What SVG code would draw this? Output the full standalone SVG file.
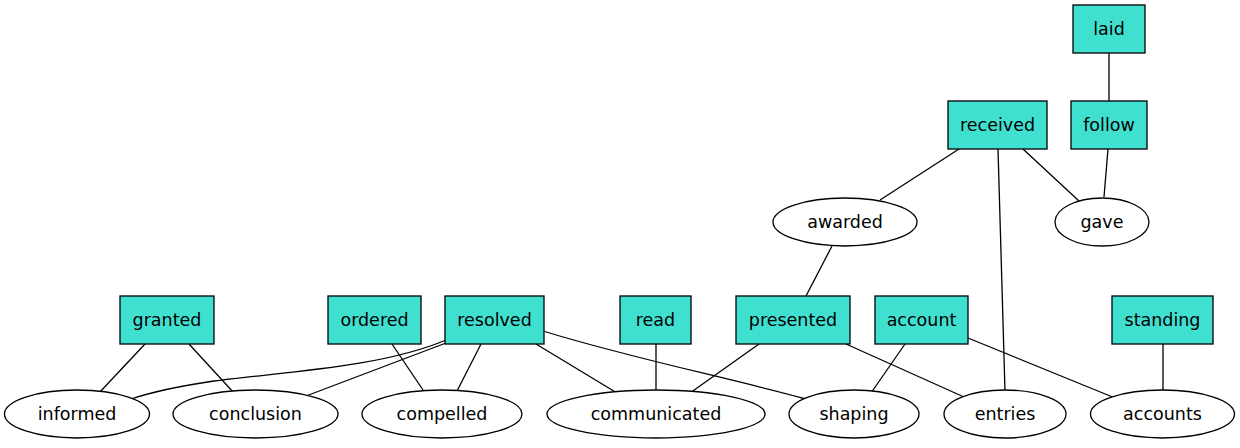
<svg xmlns="http://www.w3.org/2000/svg" width="1240" height="448" viewBox="0 0 1240 448">
<style>
.box{fill:#40E0D0;stroke:#000;stroke-width:1.3}
.ell{fill:#fff;stroke:#000;stroke-width:1.3}
.e{fill:none;stroke:#000;stroke-width:1.3}
text{font-family:"DejaVu Sans",sans-serif;font-size:17.5px;text-anchor:middle;fill:#000}
</style>
<rect width="1240" height="448" fill="#fff"/>
<g id="edges">
<line class="e" x1="1109" y1="53" x2="1109" y2="101"/>
<line class="e" x1="1108" y1="149" x2="1104" y2="197"/>
<line class="e" x1="959" y1="149" x2="880" y2="200"/>
<line class="e" x1="1023" y1="149" x2="1079" y2="201"/>
<line class="e" x1="998" y1="149" x2="1005" y2="391"/>
<line class="e" x1="832" y1="246" x2="806" y2="296"/>
<line class="e" x1="145" y1="344" x2="99" y2="393"/>
<line class="e" x1="189" y1="344" x2="234" y2="393"/>
<line class="e" x1="392" y1="344" x2="425" y2="393"/>
<line class="e" x1="481" y1="344" x2="456" y2="393"/>
<line class="e" x1="446" y1="343" x2="306" y2="396"/>
<path class="e" d="M446,340 C380,368 280,372 214,381 C180,386 152,392 131,399"/>
<line class="e" x1="536" y1="344" x2="617" y2="393"/>
<path class="e" d="M543,331 C630,358 730,378 806,399"/>
<line class="e" x1="656" y1="344" x2="656" y2="390"/>
<line class="e" x1="759" y1="344" x2="690" y2="393"/>
<line class="e" x1="846" y1="344" x2="964" y2="397"/>
<line class="e" x1="905" y1="344" x2="871" y2="393"/>
<line class="e" x1="968" y1="338" x2="1115" y2="398"/>
<line class="e" x1="1163" y1="344" x2="1163" y2="390"/>
</g>
<g id="laid"><rect class="box" x="1073" y="5" width="72" height="48"/><text x="1109" y="35">laid</text></g>
<g id="received"><rect class="box" x="948" y="101" width="99" height="48"/><text x="997.5" y="131">received</text></g>
<g id="follow"><rect class="box" x="1071" y="101" width="76" height="48"/><text x="1109" y="131">follow</text></g>
<g id="awarded"><ellipse class="ell" cx="845" cy="222" rx="72" ry="24"/><text x="845" y="228">awarded</text></g>
<g id="gave"><ellipse class="ell" cx="1102" cy="222" rx="47" ry="24"/><text x="1102" y="228">gave</text></g>
<g id="granted"><rect class="box" x="120" y="296" width="94" height="48"/><text x="167" y="326">granted</text></g>
<g id="ordered"><rect class="box" x="328" y="296" width="93" height="48"/><text x="374.5" y="326">ordered</text></g>
<g id="resolved"><rect class="box" x="445" y="296" width="99" height="48"/><text x="494.5" y="326">resolved</text></g>
<g id="read"><rect class="box" x="620" y="296" width="71" height="48"/><text x="655.5" y="326">read</text></g>
<g id="presented"><rect class="box" x="736" y="296" width="114" height="48"/><text x="793" y="326">presented</text></g>
<g id="account"><rect class="box" x="875" y="296" width="93" height="48"/><text x="921.5" y="326">account</text></g>
<g id="standing"><rect class="box" x="1112" y="296" width="101" height="48"/><text x="1162.5" y="326">standing</text></g>
<g id="informed"><ellipse class="ell" cx="77" cy="414" rx="72.5" ry="24"/><text x="77" y="420">informed</text></g>
<g id="conclusion"><ellipse class="ell" cx="255.5" cy="414" rx="82.5" ry="24"/><text x="255.5" y="420">conclusion</text></g>
<g id="compelled"><ellipse class="ell" cx="442" cy="414" rx="80" ry="24"/><text x="442" y="420">compelled</text></g>
<g id="communicated"><ellipse class="ell" cx="656" cy="414" rx="109" ry="24"/><text x="656" y="420">communicated</text></g>
<g id="shaping"><ellipse class="ell" cx="854" cy="414" rx="65" ry="24"/><text x="854" y="420">shaping</text></g>
<g id="entries"><ellipse class="ell" cx="1005" cy="414" rx="61" ry="24"/><text x="1005" y="420">entries</text></g>
<g id="accounts"><ellipse class="ell" cx="1162.5" cy="414" rx="72" ry="24"/><text x="1162.5" y="420">accounts</text></g>
</svg>
